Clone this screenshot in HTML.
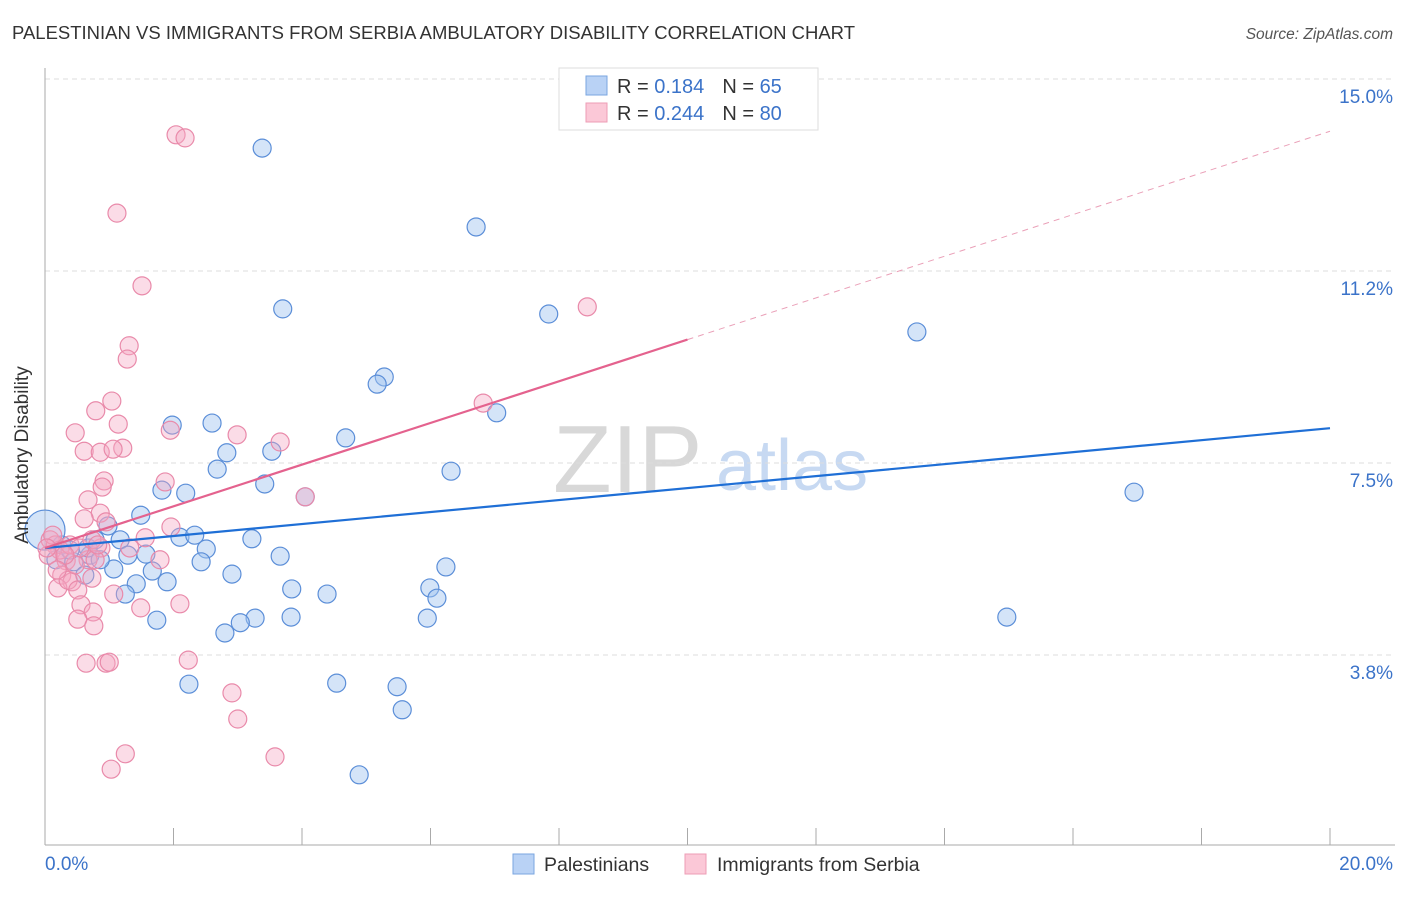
<!DOCTYPE html>
<html><head><meta charset="utf-8"><style>
body{margin:0;background:#fff;font-family:"Liberation Sans",sans-serif}
svg text{font-family:"Liberation Sans",sans-serif}
</style></head><body>
<svg width="1406" height="892" viewBox="0 0 1406 892" xmlns="http://www.w3.org/2000/svg">
<text x="12" y="39" font-size="18.5" fill="#333" textLength="843" lengthAdjust="spacingAndGlyphs">PALESTINIAN VS IMMIGRANTS FROM SERBIA AMBULATORY DISABILITY CORRELATION CHART</text>
<text x="1393" y="39" font-size="15.5" fill="#555" font-style="italic" text-anchor="end">Source: ZipAtlas.com</text>
<g>
<text x="553" y="492" font-size="96" fill="#d8d8d8" font-family="Liberation Serif">ZIP</text>
<text x="716" y="490" font-size="72" fill="#c7d9f2">atlas</text>
</g>
<g id="grid"></g>
<g id="axes"></g>
<g id="marks"></g>
<g id="lines"></g>
<text x="28" y="455" font-size="19" fill="#333" text-anchor="middle" transform="rotate(-90 28 455)">Ambulatory Disability</text>
<text x="45" y="870" font-size="19" fill="#3b73c9">0.0%</text>
<text x="1393" y="870" font-size="19" fill="#3b73c9" text-anchor="end">20.0%</text>
<g>
<rect x="559" y="68" width="259" height="62" fill="#fff" stroke="#ddd"/>
<rect x="586" y="76" width="21" height="19" fill="#b9d2f5" stroke="#7aa6e0"/>
<rect x="586" y="103" width="21" height="19" fill="#fbc8d7" stroke="#ee9db6"/>
<text x="617" y="93" font-size="20" fill="#333">R = <tspan fill="#3b73c9"> 0.184</tspan><tspan dx="18">N = </tspan><tspan fill="#3b73c9">65</tspan></text>
<text x="617" y="120" font-size="20" fill="#333">R = <tspan fill="#3b73c9">0.244</tspan><tspan dx="18">N = </tspan><tspan fill="#3b73c9">80</tspan></text>
</g>
<g>
<rect x="513" y="854" width="21" height="20" fill="#b9d2f5" stroke="#7aa6e0"/>
<text x="544" y="871" font-size="19.5" fill="#333">Palestinians</text>
<rect x="685" y="854" width="21" height="20" fill="#fbc8d7" stroke="#ee9db6"/>
<text x="717" y="871" font-size="19.5" fill="#333">Immigrants from Serbia</text>
</g>
</svg>
<script>
const yTicks=[15.0,11.25,7.5,3.75];
const yTickLabels=["15.0%","11.2%","7.5%","3.8%"];
const xTickVals=[0,2,4,6,8,10,12,14,16,18,20];
const blueX=[3.38,6.71,3.70,7.84,13.57,5.28,5.17,7.03,4.68,1.98,2.60,2.83,3.53,2.68,6.32,3.42,1.82,2.19,4.05,16.95,1.49,0.98,3.22,2.10,2.33,1.17,2.51,3.66,1.57,1.29,2.43,0.17,0.45,0.70,1.07,1.67,2.91,6.24,1.90,1.42,3.84,5.99,1.25,4.39,6.10,1.74,3.27,3.83,5.95,14.97,2.80,3.04,2.24,4.54,5.48,5.56,4.89,0.67,0.86,0.26,0.39,0.62,0.78,0.0];
const blueY=[13.65,12.11,10.51,10.41,10.06,9.18,9.04,8.48,7.99,8.24,8.28,7.70,7.73,7.38,7.34,7.09,6.97,6.91,6.84,6.93,6.48,6.27,6.02,6.05,6.09,6.00,5.82,5.68,5.72,5.70,5.57,5.61,5.57,5.70,5.43,5.39,5.33,5.47,5.18,5.14,5.04,5.06,4.94,4.94,4.86,4.43,4.47,4.49,4.47,4.49,4.18,4.38,3.18,3.20,3.13,2.68,1.41,5.84,5.61,5.90,5.80,5.31,6.00,6.19];
const pinkX=[2.04,2.18,1.12,1.51,8.44,1.31,1.28,1.04,0.79,6.82,1.14,1.95,0.47,2.99,3.66,0.61,0.86,1.21,1.06,1.87,0.92,0.89,0.67,4.05,0.86,0.61,0.95,1.96,1.56,1.32,0.87,0.67,0.33,0.08,0.16,0.23,0.05,0.39,0.54,0.73,0.26,0.73,0.42,0.20,0.36,0.51,1.07,1.49,2.10,0.56,0.75,0.51,0.76,0.64,0.95,1.00,2.23,2.91,3.00,1.25,1.03,3.58,0.12,0.47,0.78,0.31,0.03,0.19,1.79,0.82];
const pinkY=[13.91,13.85,12.38,10.96,10.55,9.79,9.53,8.71,8.52,8.67,8.26,8.14,8.09,8.05,7.91,7.73,7.71,7.79,7.77,7.13,7.15,7.03,6.78,6.84,6.52,6.41,6.35,6.25,6.04,5.84,5.84,5.61,5.59,6.00,5.90,5.80,5.70,5.90,5.84,6.00,5.31,5.25,5.18,5.06,5.21,5.02,4.94,4.67,4.75,4.73,4.59,4.45,4.32,3.59,3.59,3.61,3.65,3.01,2.50,1.82,1.52,1.76,6.09,5.51,5.61,5.70,5.84,5.41,5.61,5.90];
const blueFit=[5.84,8.18];
const pinkFit=[5.84,13.98];
const pinkSolidEnd=10.0;

const NS="http://www.w3.org/2000/svg";
const X0=45,X1=1330,Y15=79,PXPER=51.2;
function sx(v){return X0+(X1-X0)*v/20;}
function sy(v){return Y15+(15-v)*PXPER;}
function mk(tag,attrs,parent){const e=document.createElementNS(NS,tag);for(const k in attrs)e.setAttribute(k,attrs[k]);parent.appendChild(e);return e;}
const grid=document.getElementById('grid'),axes=document.getElementById('axes'),marks=document.getElementById('marks'),lines=document.getElementById('lines');
yTicks.forEach((t,i)=>{
 const l=mk('line',{x1:X0,x2:1395,y1:sy(t),y2:sy(t),stroke:'#ddd','stroke-dasharray':'5,4'},grid);
 
 
 const tx=mk('text',{x:1393,y:sy(t)+24,'font-size':19,fill:'#3b73c9','text-anchor':'end'},grid);
 tx.textContent=yTickLabels[i];
 
 
});
const ya=mk('line',{x1:X0,x2:X0,y1:68,y2:845,stroke:'#aaa'},axes);


const xa=mk('line',{x1:X0,x2:1395,y1:845,y2:845,stroke:'#aaa'},axes);


xTickVals.forEach(v=>{
 const t=mk('line',{x1:sx(v),x2:sx(v),y1:828,y2:845,stroke:'#aaa'},axes);
 
 
});
function dots(xs,ys,fill,stroke,name){
 xs.forEach((x,i)=>{
  const big=(name==='palestinian-point'&&x===0);
  const c=mk('circle',{cx:sx(x),cy:sy(ys[i]),r:big?20:9,fill:fill,stroke:stroke,'stroke-width':1.2},marks);
  
  
 });
}
dots(blueX,blueY,'rgba(160,195,240,0.45)','#5b8ed8','palestinian-point');
dots(pinkX,pinkY,'rgba(245,168,195,0.4)','#e98aaa','serbia-point');
const bl=mk('line',{x1:sx(0),y1:sy(blueFit[0]),x2:sx(20),y2:sy(blueFit[1]),stroke:'#1f6fd6','stroke-width':2.2},lines);


const pAt=v=>pinkFit[0]+(pinkFit[1]-pinkFit[0])*v/20;
const pl=mk('line',{x1:sx(0),y1:sy(pinkFit[0]),x2:sx(pinkSolidEnd),y2:sy(pAt(pinkSolidEnd)),stroke:'#e4628e','stroke-width':2.2},lines);


const pd=mk('line',{x1:sx(pinkSolidEnd),y1:sy(pAt(pinkSolidEnd)),x2:sx(20),y2:sy(pinkFit[1]),stroke:'#eaa0b8','stroke-width':1,'stroke-dasharray':'6,5'},lines);


</script>
</body></html>
